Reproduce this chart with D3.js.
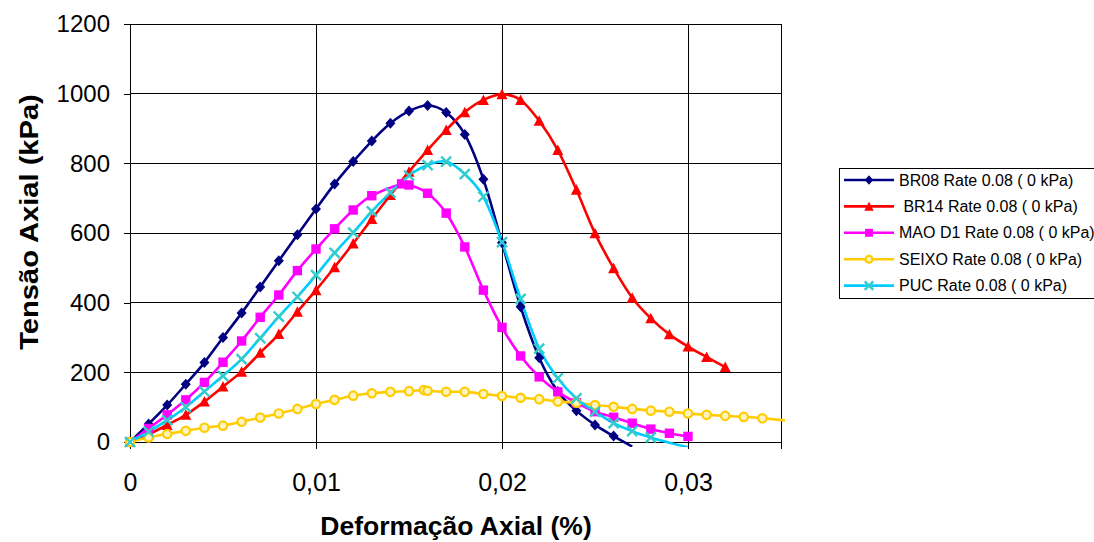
<!DOCTYPE html>
<html>
<head>
<meta charset="utf-8">
<script src="https://cdn.jsdelivr.net/npm/d3@7"></script>
<style>
  html, body { margin: 0; padding: 0; background: #fff; }
  svg { display: block; font-family: "Liberation Sans", Arial, sans-serif; }
</style>
</head>
<body>
<svg id="chart" width="1094" height="542"></svg>
<script>
// Axial stress vs axial strain, triaxial tests at rate 0.08 (confining 0 kPa)
const seriesNames = [
  "BR08 Rate 0.08 ( 0 kPa)",
  " BR14 Rate 0.08 ( 0 kPa)",
  "MAO D1 Rate 0.08 ( 0 kPa)",
  "SEIXO Rate 0.08 ( 0 kPa)",
  "PUC Rate 0.08 ( 0 kPa)"
];

// strain (%) for each series
const strainBR08 = d3.range(0, 28).map(i => i / 1000);
const strainBR14 = d3.range(0, 33).map(i => i / 1000);
const strainMAO = [0, 0.001, 0.002, 0.003, 0.004, 0.005, 0.006, 0.007, 0.008, 0.009, 0.010,
  0.011, 0.012, 0.013, 0.0146, 0.015, 0.016, 0.017, 0.018, 0.019, 0.020, 0.021, 0.022,
  0.023, 0.024, 0.025, 0.026, 0.027, 0.028, 0.029, 0.030];
const strainSEIXO = [0, 0.001, 0.002, 0.003, 0.004, 0.005, 0.006, 0.007, 0.008, 0.009, 0.010,
  0.011, 0.012, 0.013, 0.014, 0.015, 0.0158, 0.016, 0.017, 0.018, 0.019, 0.020, 0.021,
  0.022, 0.023, 0.024, 0.025, 0.026, 0.027, 0.028, 0.029, 0.030, 0.031, 0.032, 0.033,
  0.034, 0.036];
const strainPUC = d3.range(0, 31).map(i => i / 1000);

// axial stress (kPa)
const stressBR08 = [0, 52, 106, 166, 228, 300, 370, 445, 520, 595, 669, 741, 805, 864, 915,
  950, 966, 946, 883, 754, 572, 388, 242, 145, 90, 49, 17, -13];
const stressBR14 = [0, 22, 49, 78, 116, 159, 202, 256, 310, 374, 436, 502, 570, 640, 709,
  776, 838, 896, 947, 982, 998, 982, 922, 838, 724, 599, 499, 414, 355, 309, 274, 244, 215];
const stressMAO = [0, 39, 78, 121, 171, 229, 290, 358, 422, 492, 554, 612, 666, 707, 741,
  738, 714, 657, 560, 436, 329, 247, 187, 144, 113, 87, 71, 54, 37, 25, 16];
const stressSEIXO = [0, 13, 23, 32, 41, 47, 58, 70, 82, 95, 109, 121, 133, 140, 144, 146,
  149, 147, 144, 144, 138, 132, 127, 123, 116, 113, 106, 101, 95, 90, 87, 82, 78, 75, 72,
  68, 58];
const stressPUC = [0, 30, 63, 100, 145, 190, 238, 298, 360, 417, 479, 543, 601, 662, 716,
  765, 795, 805, 769, 704, 574, 411, 268, 183, 125, 87, 54, 31, 13, -2, -15];

const xTicks = [0, 0.01, 0.02, 0.03];
const yTicks = [0, 200, 400, 600, 800, 1000, 1200];

const xTitle = "Deformação Axial (%)";
const yTitle = "Tensão Axial (kPa)";

const series = [
  { name: seriesNames[0], x: strainBR08, y: stressBR08, line: "#000080", mark: "#000080", shape: "diamond" },
  { name: seriesNames[1], x: strainBR14, y: stressBR14, line: "#FF0000", mark: "#FF0000", shape: "triangle" },
  { name: seriesNames[2], x: strainMAO, y: stressMAO, line: "#FF00FF", mark: "#FF00FF", shape: "square" },
  { name: seriesNames[3], x: strainSEIXO, y: stressSEIXO, line: "#FFCC00", mark: "#FFCC00", shape: "circle" },
  { name: seriesNames[4], x: strainPUC, y: stressPUC, line: "#00CCFF", mark: "#33CCCC", shape: "x" }
];

const svg = d3.select("#chart");
const plot = { left: 130, top: 24, right: 781, bottom: 442 };

const x = d3.scaleLinear().domain([0, 0.035]).range([plot.left, plot.right]);
const y = d3.scaleLinear().domain([0, 1200]).range([plot.bottom, plot.top]);

const locale = d3.formatLocale({ decimal: ",", thousands: ".", grouping: [3], currency: ["", ""] });
const fmtX = d => d === 0 ? "0" : locale.format(".2f")(d);

// gridlines
const grid = svg.append("g");
grid.selectAll("line.h").data(yTicks.filter(d => d > 0)).join("line")
  .attr("x1", plot.left).attr("x2", plot.right)
  .attr("y1", d => y(d)).attr("y2", d => y(d))
  .attr("stroke", "#000").attr("stroke-width", 1).attr("shape-rendering", "crispEdges");
grid.selectAll("line.v").data(xTicks.filter(d => d > 0)).join("line")
  .attr("x1", d => x(d)).attr("x2", d => x(d))
  .attr("y1", plot.top).attr("y2", plot.bottom)
  .attr("stroke", "#000").attr("stroke-width", 1).attr("shape-rendering", "crispEdges");
// right border of the plot area
svg.append("line")
  .attr("x1", plot.right).attr("x2", plot.right).attr("y1", plot.top).attr("y2", plot.bottom)
  .attr("stroke", "#000").attr("stroke-width", 1).attr("shape-rendering", "crispEdges");

// axes
const yAxis = d3.axisLeft(y).tickValues(yTicks).tickSize(6).tickPadding(14).tickFormat(d3.format("d"));
const gy = svg.append("g").attr("transform", `translate(${plot.left},0)`).call(yAxis);
gy.select(".domain").attr("stroke", "#000").attr("shape-rendering", "crispEdges");
gy.selectAll(".tick line").attr("stroke", "#000").attr("shape-rendering", "crispEdges");
gy.selectAll(".tick text").attr("font-size", 24).attr("fill", "#000")
  .attr("font-family", "Liberation Sans, Arial, sans-serif");

const xAxis = d3.axisBottom(x).tickValues(xTicks).tickSize(7).tickPadding(24).tickFormat(fmtX);
const gx = svg.append("g").attr("transform", `translate(0,${plot.bottom})`).call(xAxis);
gx.select(".domain").attr("stroke", "#000").attr("shape-rendering", "crispEdges");
gx.selectAll(".tick line").attr("stroke", "#000").attr("shape-rendering", "crispEdges");
gx.selectAll(".tick text").attr("font-size", 25).attr("fill", "#000")
  .attr("font-family", "Liberation Sans, Arial, sans-serif");

// axis titles
svg.append("text")
  .attr("x", 456).attr("y", 535)
  .attr("text-anchor", "middle").attr("font-size", 26.5).attr("font-weight", "bold")
  .text(xTitle);
svg.append("text")
  .attr("transform", `translate(38,222) rotate(-90) scale(1.12,1)`)
  .attr("text-anchor", "middle").attr("font-size", 26).attr("font-weight", "bold")
  .text(yTitle);

// lines (clipped just outside the plot area)
svg.append("clipPath").attr("id", "plotclip").append("rect")
  .attr("x", plot.left - 2).attr("y", plot.top - 2)
  .attr("width", plot.right - plot.left + 6).attr("height", plot.bottom - plot.top + 7);

const line = d3.line().curve(d3.curveCardinal.tension(0));
const lines = svg.append("g").attr("clip-path", "url(#plotclip)");
series.forEach(s => {
  const pts = s.x.map((v, i) => [x(v), y(s.y[i])]);
  lines.append("path").attr("d", line(pts))
    .attr("fill", "none").attr("stroke", s.line).attr("stroke-width", 2.6)
    .attr("stroke-linejoin", "round");
});

// marker drawing
function drawMarker(g, shape, color, cx, cy, k) {
  const r = 5 * k;
  if (shape === "diamond") {
    g.append("path").attr("d", `M${cx},${cy - r - 0.5}L${cx + r},${cy}L${cx},${cy + r + 0.5}L${cx - r},${cy}Z`)
      .attr("fill", color);
  } else if (shape === "triangle") {
    g.append("path").attr("d", `M${cx},${cy - r - 0.5}L${cx + r + 0.5},${cy + r}L${cx - r - 0.5},${cy + r}Z`)
      .attr("fill", color);
  } else if (shape === "square") {
    g.append("rect").attr("x", cx - r + 0.3).attr("y", cy - r + 0.3).attr("width", 2 * r - 0.6).attr("height", 2 * r - 0.6)
      .attr("fill", color);
  } else if (shape === "circle") {
    g.append("circle").attr("cx", cx).attr("cy", cy).attr("r", r - 0.8)
      .attr("fill", "#FFF4C0").attr("stroke", color).attr("stroke-width", 2.2);
  } else if (shape === "x") {
    g.append("path").attr("d", `M${cx - r},${cy - r}L${cx + r},${cy + r}M${cx - r},${cy + r}L${cx + r},${cy - r}`)
      .attr("stroke", color).attr("stroke-width", 2.4).attr("fill", "none");
  }
}

const marks = svg.append("g");
series.forEach(s => {
  s.x.forEach((v, i) => {
    const val = s.y[i];
    if (val < 0 || v > 0.035) return;
    drawMarker(marks, s.shape, s.mark, x(v), y(val), 1);
  });
});

// legend
const legend = svg.append("g").attr("transform", "translate(839,168)");
legend.append("rect").attr("x", 0.5).attr("y", 0.5).attr("width", 262).attr("height", 130)
  .attr("fill", "#fff").attr("stroke", "#000").attr("stroke-width", 1);
series.forEach((s, i) => {
  const ly = 12 + i * 26.4;
  legend.append("line").attr("x1", 5).attr("x2", 55).attr("y1", ly).attr("y2", ly)
    .attr("stroke", s.line).attr("stroke-width", 2.6);
  drawMarker(legend, s.shape, s.mark, 30, ly, 0.85);
  legend.append("text").attr("x", 60).attr("y", ly + 5.5)
    .attr("font-size", 16).attr("fill", "#000")
    .style("white-space", "pre")
    .text(s.name);
});
</script>
</body>
</html>
